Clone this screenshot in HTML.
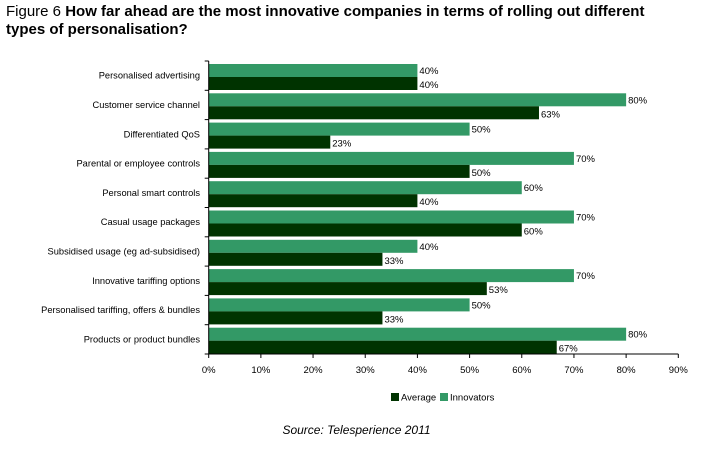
<!DOCTYPE html>
<html><head><meta charset="utf-8"><style>
body{margin:0;background:#fff;font-family:"Liberation Sans",Arial,sans-serif;}
#wrap{position:relative;width:713px;height:450px;overflow:hidden;}
#title{position:absolute;left:6px;top:3px;font-size:15px;line-height:18px;color:#000;width:655px;}
#source{position:absolute;left:0;width:713px;top:423px;text-align:center;font-size:12px;font-style:italic;}
</style></head><body>
<div id="wrap">
<div id="title">Figure 6 <b>How far ahead are the most innovative companies in terms of rolling out different types of personalisation?</b></div>
<svg id="chart" width="713" height="450" style="position:absolute;left:0;top:0"></svg>
<div id="source">Source: Telesperience 2011</div>
</div>
<script>
const categories=["Personalised advertising","Customer service channel","Differentiated QoS","Parental or employee controls","Personal smart controls","Casual usage packages","Subsidised usage (eg ad-subsidised)","Innovative tariffing options","Personalised tariffing, offers & bundles","Products or product bundles"];
const innovators=[40,80,50,70,60,70,40,70,50,80];
const average=[40,63.3,23.3,50,40,60,33.3,53.3,33.3,66.7];
const innovLabels=["40%","80%","50%","70%","60%","70%","40%","70%","50%","80%"];
const avgLabels=["40%","63%","23%","50%","40%","60%","33%","53%","33%","67%"];
const ticks=[0,10,20,30,40,50,60,70,80,90];
const NS="http://www.w3.org/2000/svg";
const svg=document.getElementById('chart');
const x0=208.7,x1=678.3,y0=61,y1=354;
const xs=v=>x0+(x1-x0)*v/90;
const band=(y1-y0)/categories.length;
function mk(t,a){const e=document.createElementNS(NS,t);for(const k in a)e.setAttribute(k,a[k]);svg.appendChild(e);return e;}
categories.forEach((c,i)=>{
  const by=y0+i*band;
  let r=mk('rect',{x:x0,y:by+3,width:xs(innovators[i])-x0,height:13,fill:'#339966'});
  
  
  r=mk('rect',{x:x0,y:by+16,width:xs(average[i])-x0,height:13,fill:'#003300'});
  
  
  let t=mk('text',{x:xs(innovators[i])+2,y:by+13,'font-size':9.5});t.textContent=innovLabels[i];
  
  
  t=mk('text',{x:xs(average[i])+2,y:by+27,'font-size':9.5});t.textContent=avgLabels[i];
  
  
  t=mk('text',{x:200,y:by+band/2+3,'font-size':9.3,'text-anchor':'end'});t.textContent=c;
  
  
});
for(let i=0;i<=categories.length;i++){const y=y0+i*band;mk('line',{x1:x0-4,x2:x0,y1:y,y2:y,stroke:'#000'});}
let ax=mk('line',{x1:x0,x2:x0,y1:y0,y2:y1,stroke:'#000'});


ax=mk('line',{x1:x0,x2:x1,y1:y1,y2:y1,stroke:'#000'});


ticks.forEach(v=>{
  mk('line',{x1:xs(v),x2:xs(v),y1:y1,y2:y1+4,stroke:'#000'});
  const t=mk('text',{x:xs(v),y:373,'font-size':9.5,'text-anchor':'middle'});t.textContent=v+'%';
  
  
});
let g=mk('rect',{x:391,y:393,width:8,height:8,fill:'#003300'});


let lt=mk('text',{x:401,y:400.5,'font-size':9.5});lt.textContent='Average';


g=mk('rect',{x:440,y:393,width:8,height:8,fill:'#339966'});


lt=mk('text',{x:450,y:400.5,'font-size':9.5});lt.textContent='Innovators';


</script>
</body></html>
